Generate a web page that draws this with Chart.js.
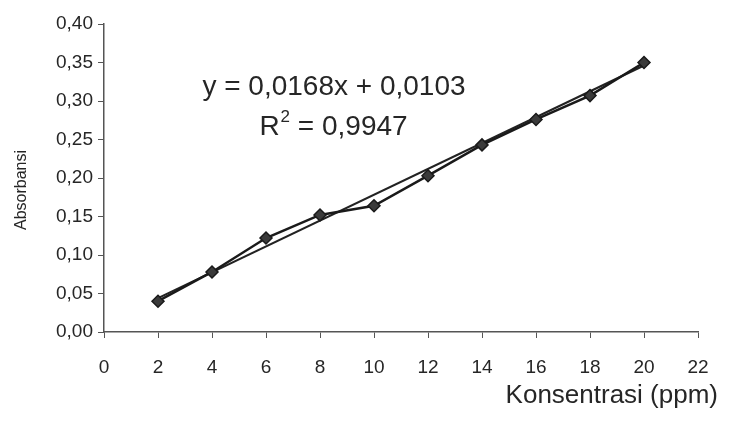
<!DOCTYPE html>
<html>
<head>
<meta charset="utf-8">
<script src="https://cdn.jsdelivr.net/npm/chart.js@4"></script>
<style>
  html, body { margin: 0; padding: 0; background: #ffffff; }
  #wrap { width: 733px; height: 428px; }
</style>
</head>
<body>
<div id="wrap"><canvas id="c" width="733" height="428"></canvas></div>
<script>
// ---- data ----
const konsentrasi = [2, 4, 6, 8, 10, 12, 14, 16, 18, 20];           // ppm
const absorbansi  = [0.040, 0.078, 0.122, 0.152, 0.164, 0.203, 0.243, 0.276, 0.307, 0.350];
const trendX = [2, 20];
const trendY = [0.044, 0.346];
const yTickValues = [0, 0.05, 0.10, 0.15, 0.20, 0.25, 0.30, 0.35, 0.40];
const xTickValues = [0, 2, 4, 6, 8, 10, 12, 14, 16, 18, 20, 22];
const equationText = 'y = 0,0168x + 0,0103';
const r2Value = '0,9947';
const xTitle = 'Konsentrasi (ppm)';
const yTitle = 'Absorbansi';

const FONT = '"Liberation Sans", Arial, sans-serif';
const INK = '#262626';

const points = konsentrasi.map((x, i) => ({ x: x, y: absorbansi[i] }));
const trend = trendX.map((x, i) => ({ x: x, y: trendY[i] }));

const textPlugin = {
  id: 'texts',
  afterDraw(chart) {
    const ctx = chart.ctx;
    ctx.save();
    ctx.fillStyle = INK;
    // equation
    ctx.font = '28px ' + FONT;
    ctx.textAlign = 'center';
    ctx.textBaseline = 'alphabetic';
    ctx.fillText(equationText, 334, 95);
    // R^2 line
    ctx.textAlign = 'left';
    const big = '28px ' + FONT, small = '17px ' + FONT;
    ctx.font = big; const wR = ctx.measureText('R').width;
    const rest = ' = ' + r2Value; const wRest = ctx.measureText(rest).width;
    ctx.font = small; const w2 = ctx.measureText('2').width;
    let x0 = 333 - (wR + w2 + wRest) / 2;
    ctx.font = big; ctx.fillText('R', x0, 135);
    ctx.font = small; ctx.fillText('2', x0 + wR + 1, 122);
    ctx.font = big; ctx.fillText(rest, x0 + wR + w2 + 1, 135);
    // x title
    ctx.font = '26px ' + FONT;
    ctx.textAlign = 'right';
    ctx.fillText(xTitle, 718, 403);
    // y title
    ctx.translate(22, 190);
    ctx.rotate(-Math.PI / 2);
    ctx.font = '16px ' + FONT;
    ctx.textAlign = 'center';
    ctx.textBaseline = 'middle';
    ctx.fillText(yTitle, 0, 0);
    ctx.restore();
  }
};

new Chart(document.getElementById('c'), {
  type: 'scatter',
  data: {
    datasets: [
      {
        label: 'Absorbansi',
        data: points,
        showLine: true,
        borderColor: '#1a1a1a',
        backgroundColor: '#1a1a1a',
        borderWidth: 2.5,
        pointStyle: 'rectRot',
        pointRadius: 6,
        pointBorderColor: '#1a1a1a',
        pointBackgroundColor: '#3a3a3a',
        pointBorderWidth: 1.5
      },
      {
        label: 'Linear',
        data: trend,
        showLine: true,
        borderColor: '#222222',
        borderWidth: 2.2,
        pointRadius: 0
      }
    ]
  },
  options: {
    responsive: false,
    animation: false,
    devicePixelRatio: 1,
    layout: { padding: { top: 24, right: 35, left: 0, bottom: 0 } },
    plugins: {
      legend: { display: false },
      tooltip: { enabled: false },
      title: { display: false }
    },
    scales: {
      x: {
        type: 'linear',
        min: 0, max: 22,
        afterFit(scale) { scale.height = 96; },
        afterBuildTicks(scale) { scale.ticks = xTickValues.map(v => ({ value: v })); },
        ticks: {
          color: INK,
          font: { family: FONT, size: 19 },
          padding: 18,
          maxRotation: 0,
          autoSkip: false,
          callback: v => String(v)
        },
        grid: { display: true, drawOnChartArea: false, drawTicks: true, tickLength: 6, color: '#555555', lineWidth: 1 },
        border: { display: true, color: '#555555', width: 1.5 }
      },
      y: {
        type: 'linear',
        min: 0, max: 0.4,
        afterFit(scale) { scale.width = 104; },
        afterBuildTicks(scale) { scale.ticks = yTickValues.map(v => ({ value: v })); },
        ticks: {
          color: INK,
          font: { family: FONT, size: 19 },
          padding: 5,
          autoSkip: false,
          callback: v => Number(v).toFixed(2).replace('.', ',')
        },
        grid: { display: true, drawOnChartArea: false, drawTicks: true, tickLength: 6, color: '#555555', lineWidth: 1 },
        border: { display: true, color: '#555555', width: 1.5 }
      }
    }
  },
  plugins: [textPlugin]
});
</script>
</body>
</html>
